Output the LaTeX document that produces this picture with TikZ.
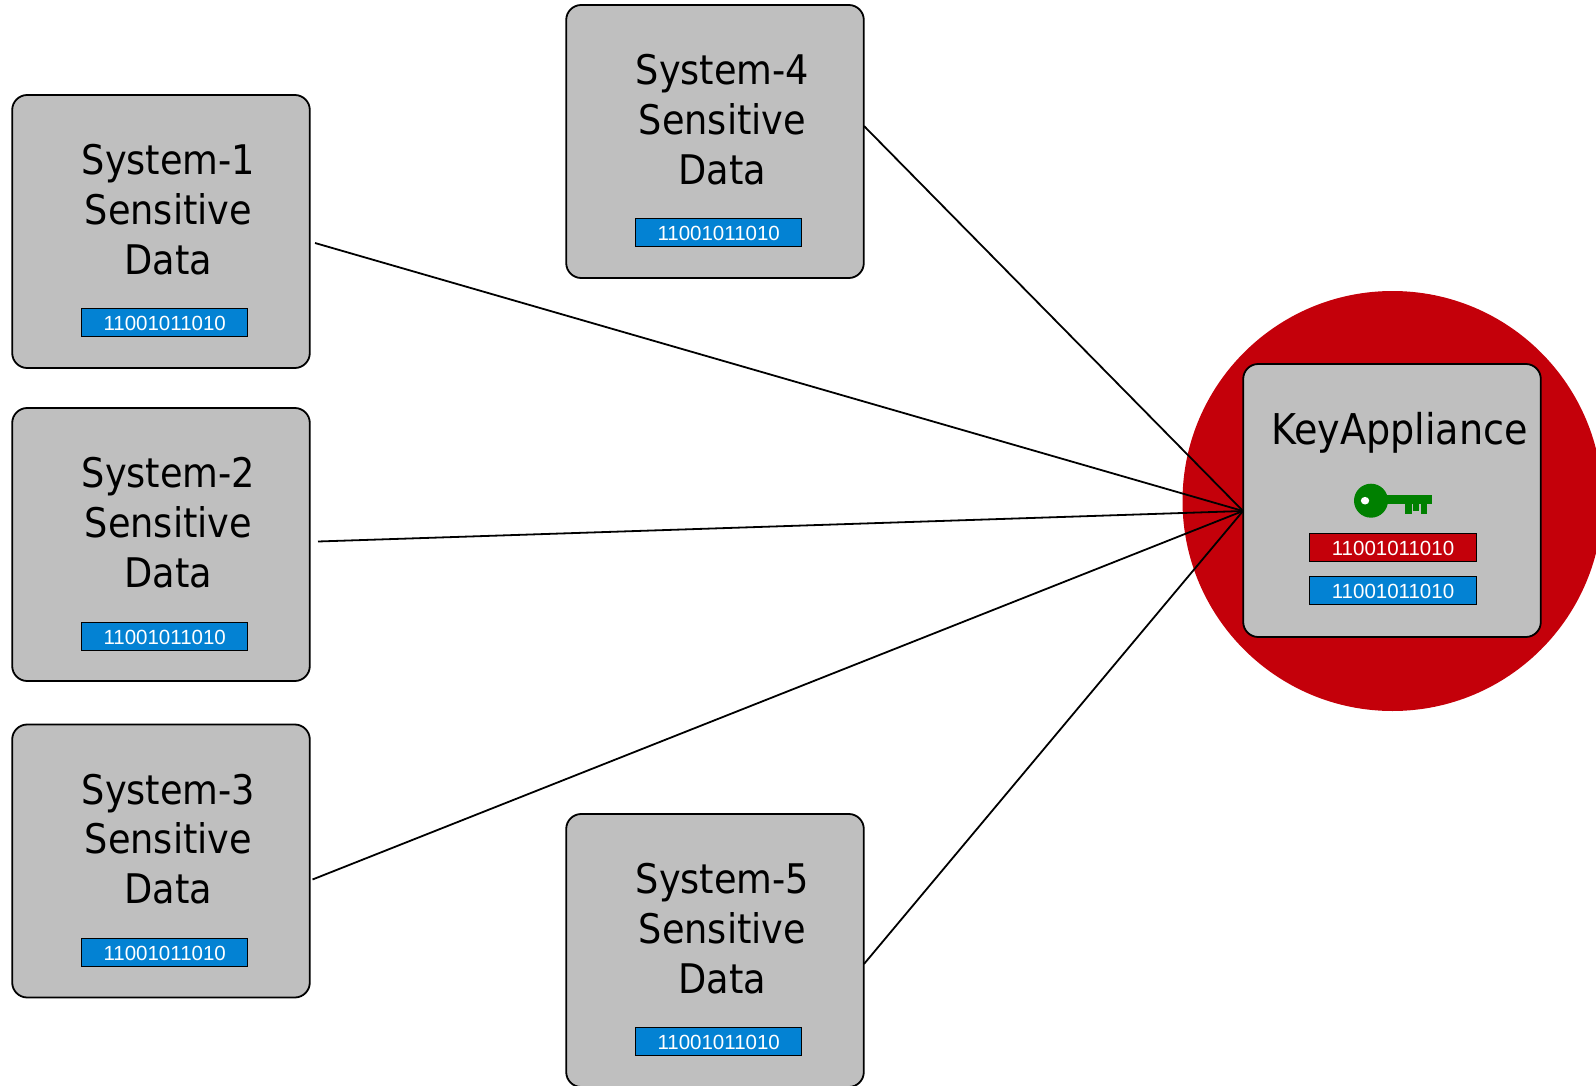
\documentclass[tikz,border=0pt]{standalone}
\usepackage{fontspec}
\setmainfont{DejaVu Sans Condensed}
\newfontfamily\bitsfont{Liberation Sans}
\usepackage{tikz}
\usepackage{xcolor}
\definecolor{box-grey}{HTML}{BFBFBF}
\definecolor{bits-blue}{HTML}{0382D3}
\definecolor{key-red}{HTML}{C4000A}
\definecolor{key-green}{HTML}{008000}
\tikzset{
    system-box/.style = {draw=black, fill=box-grey, line width=1.8pt, rectangle, rounded corners=15pt, minimum width=297.6pt, minimum height=273pt, inner sep=0pt},
    system-title/.style = {text=black, align=center, inner sep=0pt, font=\fontsize{40.8}{49.8}\selectfont},
    bits-bar/.style = {draw=black, fill=bits-blue, text=white, line width=1pt, rectangle, minimum width=166.5pt, minimum height=28pt, inner sep=0pt, text height=17pt, font=\bitsfont\fontsize{20.5}{24}\selectfont},
    link/.style = {draw=black, line width=1.8pt},
}

\begin{document}
\begin{tikzpicture}[x=1pt, y=-1pt]
\clip (0,0) rectangle (1596,1086);
\node [circle, fill=key-red, minimum size=420pt, inner sep=0pt] (halo) at (1392.5,501) {};

\coordinate (hub) at (1243,511);
\coordinate (out1) at (315,243);
\coordinate (out2) at (318,541.5);
\coordinate (out3) at (312.5,879.5);
\coordinate (out4) at (864,126);
\coordinate (out5) at (864,964);
\draw [link] (out1) -- (hub);
\draw [link] (out2) -- (hub);
\draw [link] (out3) -- (hub);
\draw [link] (out4) -- (hub);
\draw [link] (out5) -- (hub);

% left column
\node [system-box] (sys1) at (161,231.5) {};
\node [system-title] (title1) at (168.5,209.5) {System-1\\Sensitive\\Data};
\node [bits-bar] (bits1) at (164.7,322.5) {11001011010};

\node [system-box] (sys2) at (161,544.5) {};
\node [system-title] (title2) at (168.5,522.7) {System-2\\Sensitive\\Data};
\node [bits-bar] (bits2) at (164.7,636) {11001011010};

\node [system-box] (sys3) at (161,861) {};
\node [system-title] (title3) at (168.5,839) {System-3\\Sensitive\\Data};
\node [bits-bar] (bits3) at (164.7,952.5) {11001011010};

% middle column
\node [system-box] (sys4) at (715,141.5) {};
\node [system-title] (title4) at (722.5,119.5) {System-4\\Sensitive\\Data};
\node [bits-bar] (bits4) at (718.7,232.5) {11001011010};

\node [system-box] (sys5) at (715,950.5) {};
\node [system-title] (title5) at (722.5,928.5) {System-5\\Sensitive\\Data};
\node [bits-bar] (bits5) at (718.7,1041.5) {11001011010};

% appliance
\node [system-box] (appliance) at (1392,500.5) {};
\node [system-title, font=\fontsize{42.4}{49.6}\selectfont] (title6) at (1399.5,433) {KeyAppliance};
\node [bits-bar, fill=key-red] (bits6) at (1393,547.5) {11001011010};
\node [bits-bar] (bits7) at (1393,590) {11001011010};

% key
\fill [key-green] (1371,500.7) circle (17);
\fill [key-green] (1385,495) rectangle (1431.7,504);
\fill [key-green] (1405,504) rectangle (1412,513.5);
\fill [key-green] (1413,504) rectangle (1419,511);
\fill [key-green] (1421,504) rectangle (1427,513.5);
\fill [white] (1365,500.7) ellipse (4.2 and 3.8);
\end{tikzpicture}
\end{document}
